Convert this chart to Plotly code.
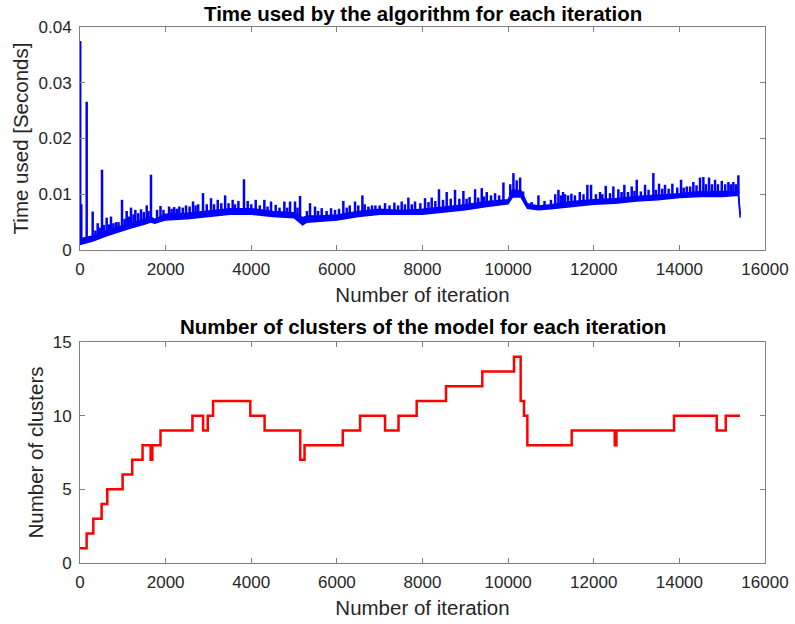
import plotly.graph_objects as go

# ---------------- data: top panel (time used) ----------------
# dense noise band of the time series: lower / upper edge
band_iter = [0, 300, 600, 900, 1200, 1500, 1650, 1750, 2000, 2500, 3000, 3500, 4000,
             4500, 5000, 5200, 5300, 5600, 6000, 6500, 7000, 7500, 8000, 8500, 9000,
             9500, 10000, 10100, 10300, 10450, 10700, 11000, 11500, 12000, 12500,
             13000, 13500, 14000, 14500, 15000, 15380, 15420]
band_lo = [0.0010, 0.0016, 0.0025, 0.0033, 0.0040, 0.0046, 0.0050, 0.0048, 0.0054,
           0.0056, 0.0060, 0.0064, 0.0064, 0.0060, 0.0058, 0.0045, 0.0050, 0.0052,
           0.0054, 0.0060, 0.0064, 0.0064, 0.0064, 0.0068, 0.0072, 0.0078, 0.0083,
           0.0095, 0.0095, 0.0075, 0.0072, 0.0074, 0.0078, 0.0082, 0.0084, 0.0088,
           0.0090, 0.0094, 0.0096, 0.0096, 0.0098, 0.0058]
band_hi = [0.0020, 0.0025, 0.0034, 0.0041, 0.0049, 0.0056, 0.0059, 0.0055, 0.0064,
           0.0066, 0.0070, 0.0074, 0.0074, 0.0069, 0.0067, 0.0058, 0.0061, 0.0061,
           0.0063, 0.0069, 0.0073, 0.0071, 0.0073, 0.0077, 0.0081, 0.0087, 0.0090,
           0.0108, 0.0106, 0.0083, 0.0079, 0.0081, 0.0087, 0.0090, 0.0092, 0.0096,
           0.0098, 0.0101, 0.0105, 0.0105, 0.0105, 0.0064]

# individual peaks of the time series (larger ones)
spike_iter = [5, 30, 156, 296, 413, 514, 623, 724, 841, 981, 1090, 1191, 1293, 1425,
              1558, 1658, 1800, 1880, 2080, 2200, 2320, 2476, 2640, 2760, 2873, 3060,
              3217, 3390, 3566, 3700, 3830, 3917, 4104, 4306, 4462, 4571, 4773, 4906,
              5022, 5140, 5373, 5490, 5646, 5864, 5957, 6151, 6300, 6424, 6596, 6735,
              6900, 7125, 7343, 7514, 7670, 7826, 8059, 8215, 8385, 8565, 8760, 8955,
              9100, 9228, 9384, 9501, 9695, 9890, 10124, 10200, 10280, 10708, 11175,
              11283, 11400, 11478, 11673, 11851, 11937, 12147, 12280, 12458, 12575,
              12715, 12887, 13004, 13100, 13198, 13392, 13525, 13665, 13836, 14039,
              14172, 14326, 14482, 14560, 14693, 14833, 14990, 15145, 15261, 15378]
spike_base = [0.0012, 0.0015, 0.0014, 0.0018, 0.0022, 0.0026, 0.0030, 0.0033, 0.0036,
              0.0038, 0.0042, 0.0045, 0.0047, 0.0050, 0.0053, 0.0055, 0.0052, 0.0055,
              0.0058, 0.0058, 0.0060, 0.0060, 0.0062, 0.0063, 0.0064, 0.0065, 0.0066,
              0.0068, 0.0068, 0.0068, 0.0068, 0.0068, 0.0066, 0.0064, 0.0063, 0.0062,
              0.0062, 0.0062, 0.0061, 0.0060, 0.0056, 0.0056, 0.0056, 0.0057, 0.0058,
              0.0060, 0.0062, 0.0063, 0.0065, 0.0066, 0.0067, 0.0068, 0.0068, 0.0068,
              0.0068, 0.0068, 0.0069, 0.0070, 0.0072, 0.0073, 0.0074, 0.0076, 0.0077,
              0.0078, 0.0079, 0.0080, 0.0082, 0.0084, 0.0100, 0.0100, 0.0098, 0.0077,
              0.0079, 0.0080, 0.0081, 0.0082, 0.0083, 0.0084, 0.0084, 0.0086, 0.0087,
              0.0088, 0.0088, 0.0089, 0.0090, 0.0091, 0.0092, 0.0092, 0.0093, 0.0094,
              0.0095, 0.0096, 0.0097, 0.0098, 0.0099, 0.0100, 0.0100, 0.0100, 0.0100,
              0.0100, 0.0100, 0.0100, 0.0100]
spike_peak = [0.0375, 0.0082, 0.0266, 0.0069, 0.0048, 0.0144, 0.0058, 0.0060, 0.0050,
              0.0090, 0.0070, 0.0076, 0.0072, 0.0073, 0.0080, 0.0135, 0.0072, 0.0079,
              0.0078, 0.0077, 0.0078, 0.0080, 0.0087, 0.0082, 0.0102, 0.0093, 0.0090,
              0.0098, 0.0090, 0.0088, 0.0127, 0.0088, 0.0090, 0.0090, 0.0087, 0.0081,
              0.0087, 0.0087, 0.0087, 0.0097, 0.0084, 0.0078, 0.0075, 0.0075, 0.0072,
              0.0088, 0.0080, 0.0087, 0.0098, 0.0078, 0.0080, 0.0084, 0.0085, 0.0087,
              0.0094, 0.0087, 0.0093, 0.0094, 0.0109, 0.0104, 0.0108, 0.0106, 0.0095,
              0.0109, 0.0111, 0.0104, 0.0102, 0.0121, 0.0138, 0.0125, 0.0130, 0.0098,
              0.0108, 0.0104, 0.0098, 0.0101, 0.0104, 0.0117, 0.0117, 0.0104, 0.0115,
              0.0114, 0.0109, 0.0117, 0.0114, 0.0126, 0.0105, 0.0117, 0.0138, 0.0119,
              0.0117, 0.0119, 0.0126, 0.0114, 0.0122, 0.0130, 0.0131, 0.0130, 0.0126,
              0.0124, 0.0122, 0.0122, 0.0134]

# smaller peaks sitting on top of the band
minor_iter = [360, 460, 560, 680, 780, 900, 1040, 1140, 1250, 1360, 1490, 1600, 1950,
              2140, 2260, 2400, 2560, 2700, 2960, 3130, 3300, 3470, 3620, 4000, 4200,
              4380, 4660, 4840, 5080, 5300, 5560, 5760, 6050, 6230, 6500, 6650, 6820,
              7000, 7230, 7430, 7590, 7750, 7950, 8140, 8300, 8480, 8660, 8860, 9030,
              9300, 9440, 9600, 9790, 10050, 10350, 10550, 10850, 11000, 11100, 11230,
              11330, 11560, 11760, 12050, 12200, 12380, 12650, 12800, 12950, 13280,
              13450, 13600, 13750, 13950, 14100, 14250, 14400, 14620, 14760, 14900,
              15070, 15200, 15320]
minor_base = [0.0019, 0.0023, 0.0027, 0.0031, 0.0034, 0.0036, 0.0040, 0.0043, 0.0046,
              0.0048, 0.0051, 0.0054, 0.0056, 0.0058, 0.0059, 0.0060, 0.0061, 0.0062,
              0.0064, 0.0066, 0.0067, 0.0068, 0.0068, 0.0067, 0.0065, 0.0063, 0.0062,
              0.0062, 0.0060, 0.0055, 0.0056, 0.0056, 0.0059, 0.0061, 0.0064, 0.0066,
              0.0067, 0.0068, 0.0068, 0.0068, 0.0068, 0.0068, 0.0069, 0.0070, 0.0071,
              0.0072, 0.0073, 0.0075, 0.0076, 0.0078, 0.0079, 0.0081, 0.0083, 0.0098,
              0.0090, 0.0076, 0.0075, 0.0076, 0.0078, 0.0079, 0.0080, 0.0082, 0.0083,
              0.0085, 0.0086, 0.0087, 0.0088, 0.0089, 0.0090, 0.0092, 0.0093, 0.0094,
              0.0095, 0.0096, 0.0097, 0.0098, 0.0099, 0.0100, 0.0100, 0.0100, 0.0100,
              0.0100, 0.0100]
minor_peak = [0.0035, 0.0040, 0.0045, 0.0046, 0.0048, 0.0050, 0.0056, 0.0060, 0.0064,
              0.0066, 0.0068, 0.0070, 0.0072, 0.0074, 0.0074, 0.0076, 0.0078, 0.0080,
              0.0082, 0.0082, 0.0084, 0.0084, 0.0082, 0.0082, 0.0080, 0.0078, 0.0076,
              0.0076, 0.0076, 0.0070, 0.0070, 0.0070, 0.0074, 0.0076, 0.0080, 0.0082,
              0.0080, 0.0080, 0.0080, 0.0080, 0.0082, 0.0082, 0.0084, 0.0086, 0.0088,
              0.0090, 0.0092, 0.0092, 0.0092, 0.0094, 0.0096, 0.0098, 0.0098, 0.0118,
              0.0105, 0.0086, 0.0088, 0.0090, 0.0100, 0.0098, 0.0100, 0.0098, 0.0100,
              0.0100, 0.0100, 0.0102, 0.0104, 0.0104, 0.0106, 0.0108, 0.0108, 0.0110,
              0.0110, 0.0112, 0.0112, 0.0114, 0.0116, 0.0118, 0.0118, 0.0118, 0.0118,
              0.0118, 0.0118]

# ---------------- data: bottom panel (number of clusters) ----------------
cluster_iter = [0, 155, 311, 505, 637, 995, 1220, 1461, 1650, 1690, 1880, 2626, 2875,
                2984, 3108, 3978, 4312, 5144, 5245, 6138, 6542, 7125, 7440, 7864, 8549,
                9397, 10137, 10293, 10371, 10449, 11485, 12490, 12530, 13875, 14872,
                15083, 15416]
cluster_count = [1, 2, 3, 4, 5, 6, 7, 8, 7, 8, 9, 10, 9, 10, 11, 10, 9, 7, 8, 9, 10, 9,
                 10, 11, 12, 13, 14, 11, 10, 8, 9, 8, 9, 10, 9, 10, 10]

x_ticks = [0, 2000, 4000, 6000, 8000, 10000, 12000, 14000, 16000]
x_tick_text = ["0", "2000", "4000", "6000", "8000", "10000", "12000", "14000", "16000"]
time_ticks = [0, 0.01, 0.02, 0.03, 0.04]
time_tick_text = ["0", "0.01", "0.02", "0.03", "0.04"]
cluster_ticks = [0, 5, 10, 15]

BLUE = "#0000FF"
RED = "#FF0000"
FONT = "Liberation Sans, Arial, sans-serif"
AX = "#808080"
TXT = "#262626"

fig = go.Figure()

# noise band (lower edge, then upper edge filled to it)
fig.add_trace(go.Scatter(x=band_iter, y=band_lo, mode="lines",
                         line=dict(color=BLUE, width=1.5), xaxis="x", yaxis="y",
                         showlegend=False, hoverinfo="skip"))
fig.add_trace(go.Scatter(x=band_iter, y=band_hi, mode="lines", fill="tonexty",
                         fillcolor=BLUE, line=dict(color=BLUE, width=1.5),
                         xaxis="x", yaxis="y", showlegend=False, hoverinfo="skip"))

# peaks as vertical segments
sx, sy = [], []
for xi, b, p in zip(spike_iter + minor_iter, spike_base + minor_base,
                    spike_peak + minor_peak):
    sx += [xi, xi, None]
    sy += [b, p, None]
fig.add_trace(go.Scatter(x=sx, y=sy, mode="lines", line=dict(color=BLUE, width=2.5),
                         xaxis="x", yaxis="y", showlegend=False, connectgaps=False))

# clusters step line
fig.add_trace(go.Scatter(x=cluster_iter, y=cluster_count, mode="lines",
                         line=dict(color=RED, width=2.5, shape="hv"),
                         xaxis="x2", yaxis="y2", showlegend=False))

W, H = 795, 624
xdom = [80 / W, 765 / W]
axis_common = dict(showline=True, linecolor=AX, linewidth=1, mirror="allticks",
                   ticks="inside", ticklen=5, tickcolor=AX, showgrid=False,
                   zeroline=False, ticklabelstandoff=4, automargin=False,
                   tickfont=dict(family=FONT, size=17, color=TXT))
title_font = dict(family=FONT, size=20.5, color=TXT)

fig.update_layout(
    width=W, height=H, margin=dict(l=0, r=0, t=0, b=0),
    paper_bgcolor="white", plot_bgcolor="white",
    xaxis=dict(domain=xdom, range=[0, 16000], tickvals=x_ticks, ticktext=x_tick_text,
               anchor="y",
               title=dict(text="Number of iteration", standoff=9, font=title_font),
               **axis_common),
    yaxis=dict(domain=[1 - 250 / H, 1 - 27 / H], range=[0, 0.04], tickvals=time_ticks,
               ticktext=time_tick_text, anchor="x",
               title=dict(text="Time used [Seconds]", standoff=4, font=title_font),
               **axis_common),
    xaxis2=dict(domain=xdom, range=[0, 16000], tickvals=x_ticks, ticktext=x_tick_text,
                anchor="y2",
                title=dict(text="Number of iteration", standoff=9, font=title_font),
                **axis_common),
    yaxis2=dict(domain=[1 - 563 / H, 1 - 342 / H], range=[0, 15], tickvals=cluster_ticks,
                anchor="x2",
                title=dict(text="Number of clusters", standoff=3, font=title_font),
                **axis_common),
    annotations=[
        dict(text="<b>Time used by the algorithm for each iteration</b>",
             x=(xdom[0] + xdom[1]) / 2, y=1 - 13 / H, xref="paper", yref="paper",
             showarrow=False, xanchor="center", yanchor="middle",
             font=dict(family=FONT, size=20.5, color="black")),
        dict(text="<b>Number of clusters of the model for each iteration</b>",
             x=(xdom[0] + xdom[1]) / 2, y=1 - 326 / H, xref="paper", yref="paper",
             showarrow=False, xanchor="center", yanchor="middle",
             font=dict(family=FONT, size=20.5, color="black")),
    ],
)

fig.write_html("out.html")
